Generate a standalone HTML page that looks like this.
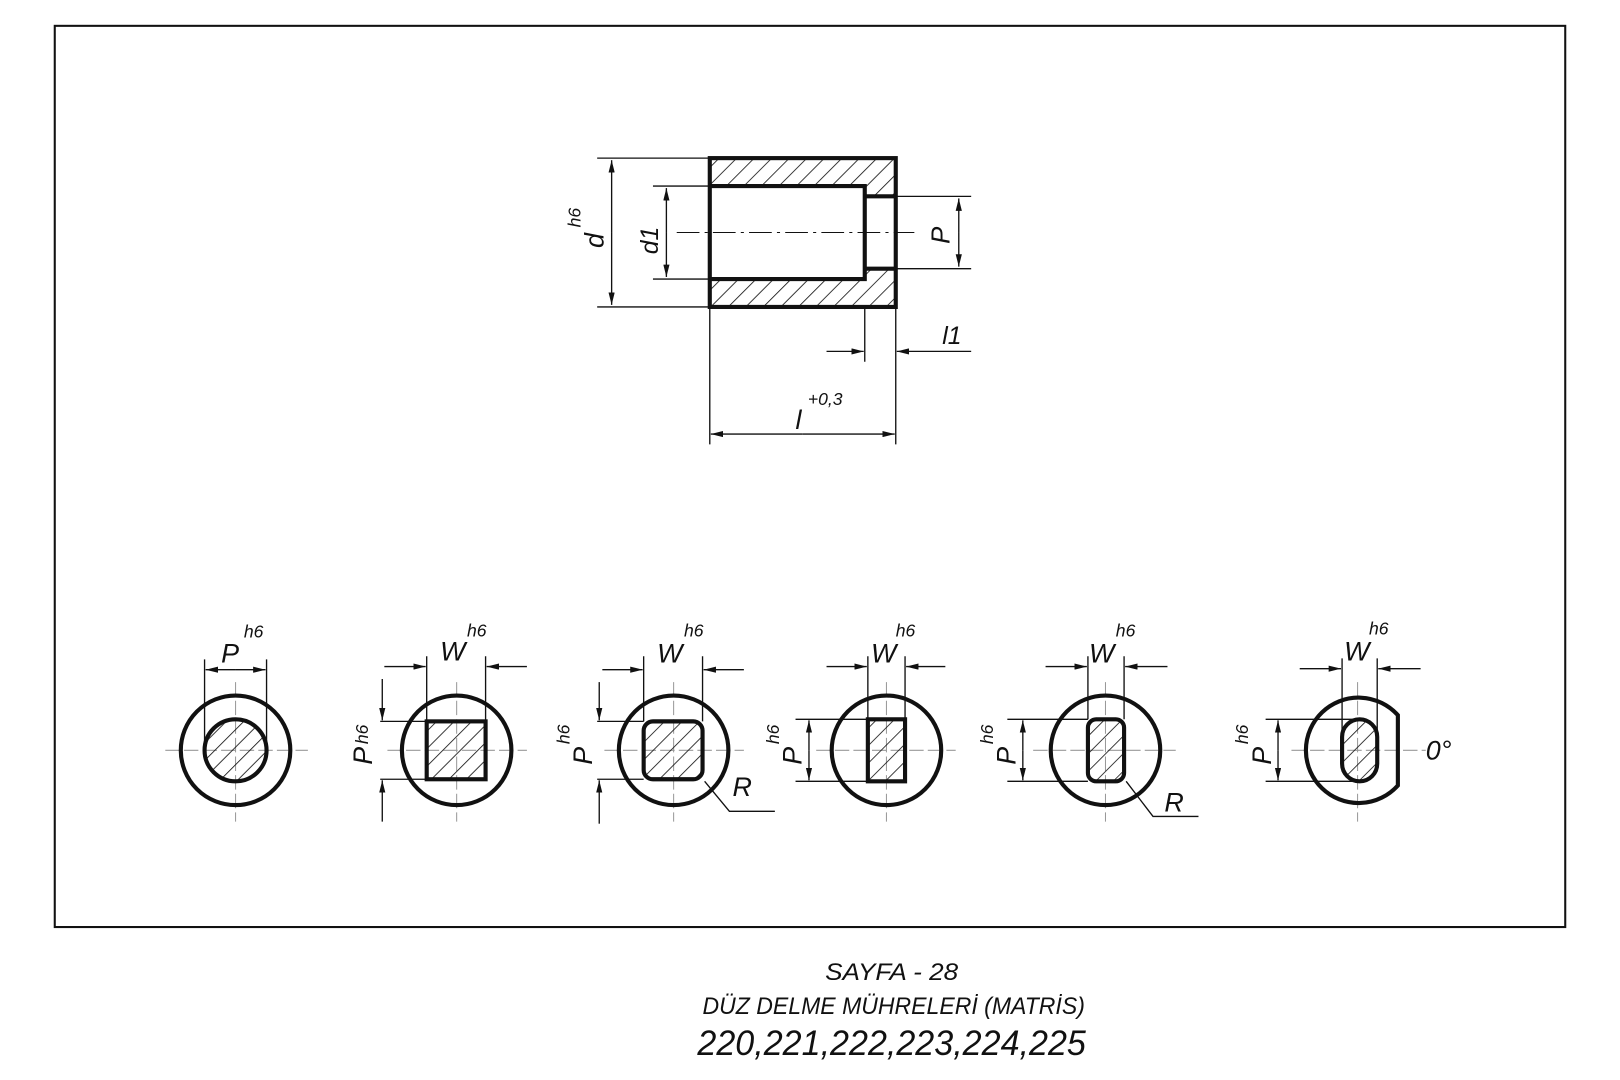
<!DOCTYPE html>
<html><head><meta charset="utf-8"><style>
html,body{margin:0;padding:0;background:#fff;}
svg{display:block;}
text{font-family:"Liberation Sans","DejaVu Sans",sans-serif;font-style:italic;fill:#111;}
</style></head><body>
<svg width="1620" height="1080" viewBox="0 0 1568 1045" preserveAspectRatio="none" xmlns="http://www.w3.org/2000/svg">
<defs>
<pattern id="h" patternUnits="userSpaceOnUse" width="12" height="12" patternTransform="rotate(45)">
<line x1="0" y1="0" x2="0" y2="12" stroke="#111" stroke-width="1.6"/>
</pattern>
<marker id="a" viewBox="0 0 12 6" refX="12" refY="3" markerWidth="12" markerHeight="6" markerUnits="userSpaceOnUse" orient="auto-start-reverse">
<path d="M0,0 L12,3 L0,6 z" fill="#111"/>
</marker>
</defs>
<rect x="53" y="25" width="1462" height="872" fill="none" stroke="#111" stroke-width="2"/>

<g fill="url(#h)" stroke="none">
<path d="M687,153 H867 V190 H837 V180 H687 Z"/>
<path d="M687,270 H837 V260 H867 V297 H687 Z"/>
</g>
<g fill="none" stroke="#111" stroke-width="4">
<rect x="687" y="153" width="180" height="144"/>
<path d="M687,180 H837 V270 H687"/>
<path d="M837,190 H867 M837,260 H867"/>
</g>
<line x1="655" y1="225" x2="885" y2="225" stroke="#111" stroke-width="1" stroke-dasharray="22,5,3,5"/>
<g stroke="#111" stroke-width="1.3" fill="none">
<path d="M578,153 H687 M578,297 H687 M632,180 H687 M632,270 H687 M867,190 H940 M867,260 H940"/>
<path d="M837,297 V350 M867,297 V430 M687,297 V430"/>
<line x1="592" y1="225" x2="592" y2="155" marker-end="url(#a)"/>
<line x1="592" y1="225" x2="592" y2="295" marker-end="url(#a)"/>
<line x1="645" y1="225" x2="645" y2="182" marker-end="url(#a)"/>
<line x1="645" y1="225" x2="645" y2="268" marker-end="url(#a)"/>
<line x1="928" y1="225" x2="928" y2="192" marker-end="url(#a)"/>
<line x1="928" y1="225" x2="928" y2="258" marker-end="url(#a)"/>
<line x1="800" y1="340" x2="836" y2="340" marker-end="url(#a)"/>
<line x1="940" y1="340" x2="868" y2="340" marker-end="url(#a)"/>
<line x1="777" y1="420" x2="688" y2="420" marker-end="url(#a)"/>
<line x1="777" y1="420" x2="866" y2="420" marker-end="url(#a)"/>
</g>
<text transform="translate(584,240) rotate(-90)" font-size="26">d</text>
<text transform="translate(562,220) rotate(-90)" font-size="17">h6</text>
<text transform="translate(637,246) rotate(-90)" font-size="24">d1</text>
<text transform="translate(919,236) rotate(-90)" font-size="25">P</text>
<text x="912" y="333" font-size="24">l1</text>
<text x="770" y="415" font-size="26">l</text>
<text x="782" y="392" font-size="17">+0,3</text>

<g stroke="#999" stroke-width="1" stroke-dasharray="14,4">
<line x1="160" y1="726" x2="298" y2="726"/><line x1="228" y1="660" x2="228" y2="795"/>
<line x1="375" y1="726" x2="510" y2="726"/><line x1="442" y1="660" x2="442" y2="795"/>
<line x1="585" y1="726" x2="720" y2="726"/><line x1="652" y1="660" x2="652" y2="795"/>
<line x1="790" y1="726" x2="925" y2="726"/><line x1="858" y1="660" x2="858" y2="795"/>
<line x1="1000" y1="726" x2="1138" y2="726"/><line x1="1070" y1="660" x2="1070" y2="795"/>
<line x1="1250" y1="726" x2="1380" y2="726"/><line x1="1314" y1="660" x2="1314" y2="795"/>
</g>
<g fill="url(#h)">
<circle cx="228" cy="726" r="30"/>
<rect x="413" y="698" width="57" height="56"/>
<rect x="623" y="698" width="57" height="56" rx="9"/>
<rect x="840" y="696" width="36" height="60"/>
<rect x="1053" y="696" width="35" height="60" rx="8"/>
<rect x="1299" y="696" width="34" height="60" rx="17"/>
</g>
<g fill="none" stroke="#111" stroke-width="4">
<circle cx="228" cy="726" r="53"/><circle cx="228" cy="726" r="30"/>
<circle cx="442" cy="726" r="53"/><rect x="413" y="698" width="57" height="56"/>
<circle cx="652" cy="726" r="53"/><rect x="623" y="698" width="57" height="56" rx="9"/>
<circle cx="858" cy="726" r="53"/><rect x="840" y="696" width="36" height="60"/>
<circle cx="1070" cy="726" r="53"/><rect x="1053" y="696" width="35" height="60" rx="8"/>
<path d="M1353,692 A51,51 0 1 0 1353,760 Z"/><rect x="1299" y="696" width="34" height="60" rx="17"/>
</g>
<g stroke="#111" stroke-width="1.3" fill="none">
<path d="M198,638 V726 M258,638 V726"/>
<line x1="228" y1="648" x2="199" y2="648" marker-end="url(#a)"/>
<line x1="228" y1="648" x2="257" y2="648" marker-end="url(#a)"/>
<path d="M413,635 V698 M470,635 V698 M368,698 H413 M368,754 H413"/>
<line x1="372" y1="645" x2="412" y2="645" marker-end="url(#a)"/>
<line x1="510" y1="645" x2="471" y2="645" marker-end="url(#a)"/>
<line x1="370" y1="657" x2="370" y2="697" marker-end="url(#a)"/>
<line x1="370" y1="795" x2="370" y2="755" marker-end="url(#a)"/>
<path d="M623,635 V698 M680,635 V698 M578,698 H623 M578,754 H623"/>
<line x1="583" y1="648" x2="622" y2="648" marker-end="url(#a)"/>
<line x1="720" y1="648" x2="681" y2="648" marker-end="url(#a)"/>
<line x1="580" y1="660" x2="580" y2="697" marker-end="url(#a)"/>
<line x1="580" y1="797" x2="580" y2="755" marker-end="url(#a)"/>
<path d="M750,785 H706 L682,756"/>
<path d="M840,635 V696 M876,635 V696 M770,696 H840 M770,756 H840"/>
<line x1="800" y1="645" x2="839" y2="645" marker-end="url(#a)"/>
<line x1="915" y1="645" x2="877" y2="645" marker-end="url(#a)"/>
<line x1="783" y1="726" x2="783" y2="697" marker-end="url(#a)"/>
<line x1="783" y1="726" x2="783" y2="755" marker-end="url(#a)"/>
<path d="M1053,635 V696 M1088,635 V696 M975,696 H1053 M975,756 H1053"/>
<line x1="1012" y1="645" x2="1052" y2="645" marker-end="url(#a)"/>
<line x1="1130" y1="645" x2="1089" y2="645" marker-end="url(#a)"/>
<line x1="990" y1="726" x2="990" y2="697" marker-end="url(#a)"/>
<line x1="990" y1="726" x2="990" y2="755" marker-end="url(#a)"/>
<path d="M1160,790 H1116 L1090,756"/>
<path d="M1299,637 V726 M1333,637 V726 M1225,696 H1314 M1225,756 H1314"/>
<line x1="1258" y1="647" x2="1298" y2="647" marker-end="url(#a)"/>
<line x1="1375" y1="647" x2="1334" y2="647" marker-end="url(#a)"/>
<line x1="1237" y1="726" x2="1237" y2="697" marker-end="url(#a)"/>
<line x1="1237" y1="726" x2="1237" y2="755" marker-end="url(#a)"/>
</g>
<g font-size="26">
<text x="214" y="641">P</text><text x="236" y="617" font-size="17">h6</text>
<text x="426" y="639">W</text><text x="452" y="616" font-size="17">h6</text>
<text x="636" y="641">W</text><text x="662" y="616" font-size="17">h6</text>
<text x="843" y="641">W</text><text x="867" y="616" font-size="17">h6</text>
<text x="1054" y="641">W</text><text x="1080" y="616" font-size="17">h6</text>
<text x="1301" y="639">W</text><text x="1325" y="614" font-size="17">h6</text>
<text transform="translate(360,740) rotate(-90)">P</text><text transform="translate(356,720) rotate(-90)" font-size="17">h6</text>
<text transform="translate(573,740) rotate(-90)">P</text><text transform="translate(551,720) rotate(-90)" font-size="17">h6</text>
<text transform="translate(776,740) rotate(-90)">P</text><text transform="translate(754,720) rotate(-90)" font-size="17">h6</text>
<text transform="translate(983,740) rotate(-90)">P</text><text transform="translate(961,720) rotate(-90)" font-size="17">h6</text>
<text transform="translate(1230,740) rotate(-90)">P</text><text transform="translate(1208,720) rotate(-90)" font-size="17">h6</text>
<text x="709" y="770">R</text>
<text x="1127" y="785">R</text>
<text x="1380" y="735">0°</text>
</g>

<g text-anchor="middle">
<text transform="translate(863,948) scale(1.1,1)" font-size="23">SAYFA - 28</text>
<text transform="translate(865,981) scale(0.97,1)" font-size="23">DÜZ DELME MÜHRELERİ (MATRİS)</text>
<text transform="translate(863,1021) scale(0.97,1)" font-size="34">220,221,222,223,224,225</text>
</g>
</svg>
</body></html>
